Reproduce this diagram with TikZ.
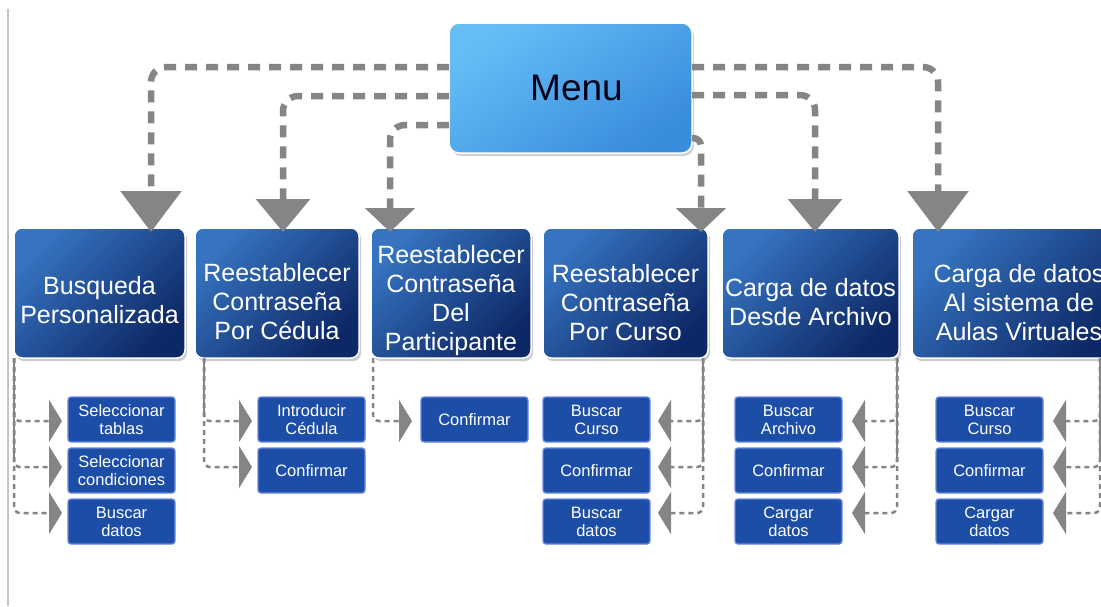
\documentclass[tikz,border=0pt]{standalone}
\usepackage{fontspec}
\setmainfont{Liberation Sans}
\usetikzlibrary{arrows.meta,shadows,calc}
\definecolor{menuA}{HTML}{66BDF5}
\definecolor{menuB}{HTML}{3A8CDD}
\definecolor{headA}{HTML}{3673C0}
\definecolor{headB}{HTML}{0D2866}
\definecolor{subfill}{HTML}{1C4EA8}
\definecolor{subedge}{HTML}{6A88E2}
\definecolor{conn}{HTML}{858585}
\definecolor{framec}{HTML}{C4C4C4}
\newcommand{\mystrut}[1]{\rule{0pt}{#1}}
\begin{document}
\begin{tikzpicture}[x=1pt,y=-1pt,
  menubox/.style={anchor=north west, minimum width=243pt, minimum height=130pt,
    rounded corners=10pt, draw=white, line width=1.5pt, outer sep=0pt,
    top color=menuA, bottom color=menuB, shading angle=35,
    drop shadow={shadow xshift=2pt,shadow yshift=-3pt,fill=black,opacity=.18},
    text=black!90!blue, font=\fontsize{37}{40}\selectfont},
  headbox/.style={anchor=north west, minimum height=130pt, inner sep=0pt,
    rounded corners=8pt, draw=white, line width=1.5pt, outer sep=0pt,
    top color=headA, bottom color=headB, shading angle=45,
    drop shadow={shadow xshift=2pt,shadow yshift=-3pt,fill=black,opacity=.2},
    text=white, align=center, font=\fontsize{25}{29}\selectfont},
  subbox/.style={anchor=north west, minimum width=107pt, minimum height=45pt,
    inner sep=0pt, rounded corners=3pt, fill=subfill, draw=subedge,
    line width=1.3pt, outer sep=0pt, text=white, align=center,
    font=\fontsize{16.5}{18}\selectfont},
  mainarrow/.style={draw=conn, line width=6.5pt, dash pattern=on 12pt off 9pt,
    rounded corners=15pt},
  subarrow/.style={draw=conn, line width=2.5pt, dash pattern=on 5pt off 4pt,
    rounded corners=6pt, -{Triangle[width=42pt,length=13pt]}},
  subline/.style={draw=conn, line width=2.5pt}
]
\useasboundingbox (0,0) rectangle (1101,606);
\fill[white] (0,0) rectangle (1101,606);
\clip (0,0) rectangle (1101,606);
\draw[framec, line width=1.5pt] (8,9) -- (8,606);

% menu
\node[menubox] (Menu) at (449,23) {\hspace{12pt}Menu};

% headings
\node[headbox, minimum width=171pt] (H1) at (14,228) {\mystrut{32pt}Busqueda\\Personalizada};
\node[headbox, minimum width=164pt] (H2) at (195,228) {\mystrut{36pt}Reestablecer\\Contraseña\\Por Cédula};
\node[headbox, minimum width=160pt] (H3) at (371,228) {\mystrut{34pt}Reestablecer\\Contraseña\\Del\\Participante};
\node[headbox, minimum width=165pt] (H4) at (543,228) {\mystrut{37pt}Reestablecer\\Contraseña\\Por Curso};
\node[headbox, minimum width=177pt] (H5) at (722,228) {\mystrut{37pt}Carga de datos\\Desde Archivo};
\node[headbox, minimum width=214pt] (H6) at (912,228) {\mystrut{37pt}Carga de datos\\Al sistema de\\Aulas Virtuales};

% sub boxes
\node[subbox] (S1a) at (68,397) {Seleccionar\\tablas};
\node[subbox] (S1b) at (68,448) {Seleccionar\\condiciones};
\node[subbox] (S1c) at (68,499) {Buscar\\datos};
\node[subbox] (S2a) at (258,397) {Introducir\\Cédula};
\node[subbox] (S2b) at (258,448) {Confirmar};
\node[subbox] (S3a) at (421,397) {Confirmar};
\node[subbox] (S4a) at (543,397) {Buscar\\Curso};
\node[subbox] (S4b) at (543,448) {Confirmar};
\node[subbox] (S4c) at (543,499) {Buscar\\datos};
\node[subbox] (S5a) at (735,397) {Buscar\\Archivo};
\node[subbox] (S5b) at (735,448) {Confirmar};
\node[subbox] (S5c) at (735,499) {Cargar\\datos};
\node[subbox] (S6a) at (936,397) {Buscar\\Curso};
\node[subbox] (S6b) at (936,448) {Confirmar};
\node[subbox] (S6c) at (936,499) {Cargar\\datos};

% main connectors
\draw[mainarrow, -{Triangle[width=60pt,length=41pt]}] ([yshift=21pt]Menu.west) -| ([xshift=51.5pt,yshift=-4pt]H1.north);
\draw[mainarrow, -{Triangle[width=53pt,length=33pt]}] ([yshift=-8pt]Menu.west) -| ([xshift=6pt,yshift=-4pt]H2.north);
\draw[mainarrow, -{Triangle[width=49pt,length=24pt]}] ([yshift=-37pt]Menu.west) -| ([xshift=-61pt,yshift=-4pt]H3.north);
\draw[mainarrow, -{Triangle[width=60pt,length=41pt]}] ([yshift=21pt]Menu.east) -| ([xshift=-81pt,yshift=-4pt]H6.north);
\draw[mainarrow, -{Triangle[width=53pt,length=33pt]}] ([yshift=-7pt]Menu.east) -| ([xshift=4.5pt,yshift=-4pt]H5.north);
\draw[mainarrow, rounded corners=8pt, -{Triangle[width=49pt,length=24pt]}] ([yshift=-50pt]Menu.east) -| ([xshift=75.5pt,yshift=-4pt]H4.north);

% sub connector origins
\coordinate (L1) at ([xshift=0pt]H1.south west);
\coordinate (L2) at ([xshift=9pt]H2.south west);
\coordinate (L3) at ([xshift=2pt]H3.south west);
\coordinate (L4) at ([xshift=-5pt]H4.south east);
\coordinate (L5) at ([xshift=-2pt]H5.south east);
\coordinate (L6) at ([xshift=188pt]H6.south west);

% column 1
\draw[subarrow] (L1) |- ([xshift=-6pt,yshift=-1.5pt]S1a.west);
\draw[subarrow] (L1) |- ([xshift=-6pt,yshift=3.5pt]S1b.west);
\draw[subarrow] (L1) |- ([xshift=-6pt,yshift=8.5pt]S1c.west);
\draw[subline] (L1) -- ($(L1 |- S1b.west)+(0,-11.5)$);
% column 2
\draw[subarrow] (L2) |- ([xshift=-6pt,yshift=-1.5pt]S2a.west);
\draw[subarrow] (L2) |- ([xshift=-6pt,yshift=3.5pt]S2b.west);
\draw[subline] (L2) -- ($(L2 |- S2a.west)+(0,-6.5)$);
% column 3
\draw[subarrow] (L3) |- ([xshift=-9pt,yshift=-1.5pt]S3a.west);
% column 4
\draw[subarrow] (L4) |- ([xshift=8pt,yshift=-1.5pt]S4a.east);
\draw[subarrow] (L4) |- ([xshift=8pt,yshift=3.5pt]S4b.east);
\draw[subarrow] (L4) |- ([xshift=8pt,yshift=8.5pt]S4c.east);
\draw[subline] (L4) -- ($(L4 |- S4b.east)+(0,-11.5)$);
% column 5
\draw[subarrow] (L5) |- ([xshift=10pt,yshift=-1.5pt]S5a.east);
\draw[subarrow] (L5) |- ([xshift=10pt,yshift=3.5pt]S5b.east);
\draw[subarrow] (L5) |- ([xshift=10pt,yshift=8.5pt]S5c.east);
\draw[subline] (L5) -- ($(L5 |- S5b.east)+(0,-11.5)$);
% column 6
\draw[subarrow] (L6) |- ([xshift=10pt,yshift=-1.5pt]S6a.east);
\draw[subarrow] (L6) |- ([xshift=10pt,yshift=3.5pt]S6b.east);
\draw[subarrow] (L6) |- ([xshift=10pt,yshift=8.5pt]S6c.east);
\draw[subline] (L6) -- ($(L6 |- S6b.east)+(0,-11.5)$);
\end{tikzpicture}
\end{document}
